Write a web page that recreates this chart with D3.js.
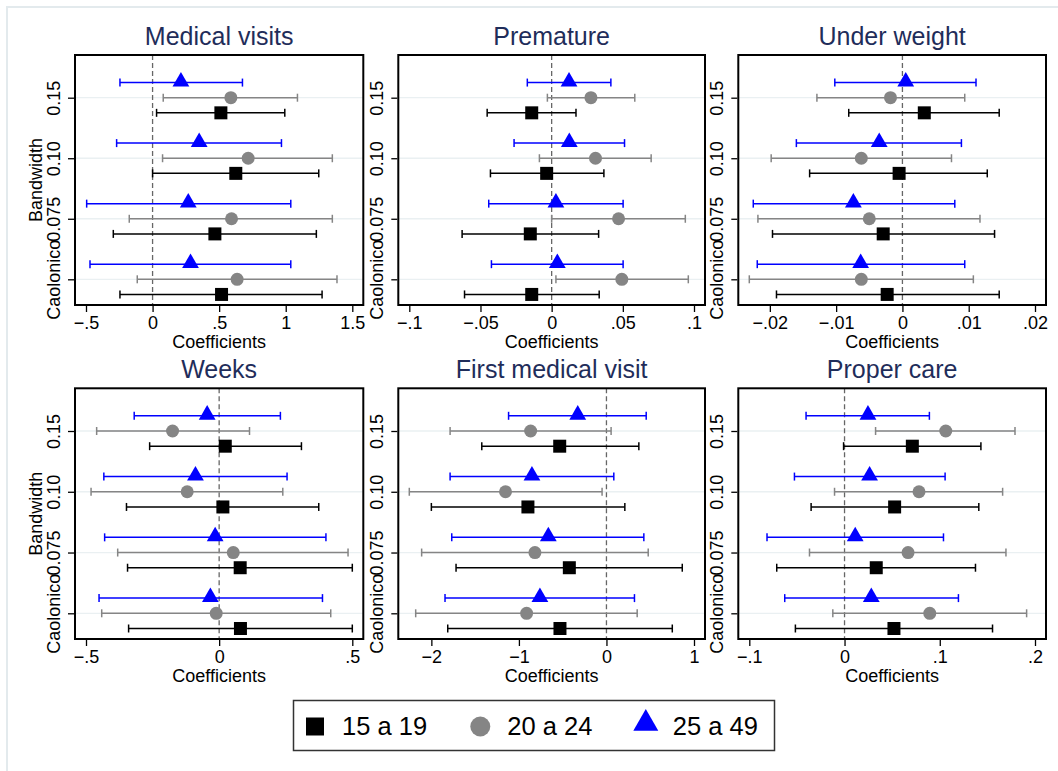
<!DOCTYPE html>
<html>
<head>
<meta charset="utf-8">
<script src="https://cdn.jsdelivr.net/npm/d3@7"></script>
<style>
    body { margin: 0; background: white; }
    text { font-family: "Liberation Sans", Arial, sans-serif; }
</style>
</head>
<body>
<main></main>
<script>
const bandwidths = ["0.15", "0.10", "0.075", "Caolonico"]
const ageGroups = ["15 a 19", "20 a 24", "25 a 49"]
const titles = ["Medical visits", "Premature", "Under weight", "Weeks", "First medical visit", "Proper care"]

// [low, estimate, high] for each bandwidth (0.15, 0.10, 0.075, Caolonico)
const medVisits15 = [[0.03, 0.513, 0.993], [0.0, 0.625, 1.248], [-0.295, 0.468, 1.23], [-0.245, 0.518, 1.273]]
const medVisits20 = [[0.08, 0.588, 1.088], [0.075, 0.718, 1.35], [-0.175, 0.593, 1.35], [-0.115, 0.635, 1.385]]
const medVisits25 = [[-0.245, 0.213, 0.675], [-0.27, 0.35, 0.968], [-0.495, 0.268, 1.038], [-0.47, 0.285, 1.038]]

const premature15 = [[-0.0453, -0.014, 0.0171], [-0.043, -0.0035, 0.0367], [-0.0629, -0.015, 0.033], [-0.0612, -0.014, 0.0334]]
const premature20 = [[-0.003, 0.0276, 0.0584], [-0.0086, 0.0308, 0.0699], [0.0, 0.047, 0.0939], [0.003, 0.0493, 0.096]]
const premature25 = [[-0.0171, 0.0122, 0.0416], [-0.0264, 0.0124, 0.0512], [-0.0442, 0.003, 0.0502], [-0.0423, 0.004, 0.0502]]

const underWeight15 = [[-0.0081, 0.0033, 0.0146], [-0.014, -0.0005, 0.0128], [-0.0196, -0.0029, 0.0139], [-0.019, -0.0023, 0.0146]]
const underWeight20 = [[-0.0129, -0.0018, 0.0094], [-0.0198, -0.0062, 0.0074], [-0.0218, -0.005, 0.0117], [-0.0231, -0.0062, 0.0107]]
const underWeight25 = [[-0.0102, 0.0005, 0.0111], [-0.016, -0.0035, 0.0089], [-0.0225, -0.0074, 0.0079], [-0.0219, -0.0063, 0.0094]]

const weeks15 = [[-0.261, 0.023, 0.309], [-0.348, 0.014, 0.374], [-0.344, 0.079, 0.5], [-0.34, 0.08, 0.5]]
const weeks20 = [[-0.46, -0.175, 0.114], [-0.481, -0.12, 0.239], [-0.381, 0.053, 0.484], [-0.441, -0.011, 0.419]]
const weeks25 = [[-0.319, -0.045, 0.23], [-0.433, -0.089, 0.255], [-0.43, -0.015, 0.401], [-0.451, -0.033, 0.388]]

const firstVisit15 = [[-1.424, -0.534, 0.37], [-2.0, -0.897, 0.21], [-1.718, -0.424, 0.866], [-1.813, -0.531, 0.752]]
const firstVisit20 = [[-1.786, -0.866, 0.053], [-2.252, -1.153, -0.05], [-2.111, -0.817, 0.477], [-2.179, -0.912, 0.351]]
const firstVisit25 = [[-1.118, -0.328, 0.454], [-1.786, -0.851, 0.084], [-1.767, -0.664, 0.427], [-1.844, -0.76, 0.32]]

const properCare15 = [[-0.001, 0.0712, 0.1432], [-0.0351, 0.0526, 0.141], [-0.0712, 0.0333, 0.1375], [-0.0516, 0.0519, 0.1554]]
const properCare20 = [[0.0326, 0.1063, 0.179], [-0.0105, 0.0782, 0.166], [-0.0368, 0.0667, 0.1695], [-0.0123, 0.0895, 0.1912]]
const properCare25 = [[-0.0404, 0.0246, 0.0891], [-0.0526, 0.0263, 0.1056], [-0.0814, 0.0112, 0.1039], [-0.0628, 0.0281, 0.1196]]

const medVisitsTicks = [-0.5, 0, 0.5, 1, 1.5]
const prematureTicks = [-0.1, -0.05, 0, 0.05, 0.1]
const underWeightTicks = [-0.02, -0.01, 0, 0.01, 0.02]
const weeksTicks = [-0.5, 0, 0.5]
const firstVisitTicks = [-2, -1, 0, 1]
const properCareTicks = [-0.1, 0, 0.1, 0.2]

const panelSeries = [
    [medVisits15, medVisits20, medVisits25],
    [premature15, premature20, premature25],
    [underWeight15, underWeight20, underWeight25],
    [weeks15, weeks20, weeks25],
    [firstVisit15, firstVisit20, firstVisit25],
    [properCare15, properCare20, properCare25],
]
const panelTicks = [medVisitsTicks, prematureTicks, underWeightTicks, weeksTicks, firstVisitTicks, properCareTicks]

/* layout */

const svgWidth = 1058
const svgHeight = 771

const cols = [[75, 363.3], [398.3, 705], [738.3, 1046]]
const rows = [[55, 305], [388.3, 639]]

const colors = ["#000000", "#858585", "#0000ff"]
const symbols = [d3.symbolSquare, d3.symbolCircle, d3.symbolTriangle]
const symbolSizes = [169, 133, 122]
const offsets = [0.25, 0, -0.25]   // in category steps, square below, triangle above

const titleColor = "#1f2d5a"
const labelSize = "18px"

let svg = d3.select("main")
    .append("svg")
    .attr("width", svgWidth)
    .attr("height", svgHeight)
    .style("display", "block")
    .style("background-color", "white")

svg.append("rect")
    .attr("x", 7)
    .attr("y", 7)
    .attr("width", 1070)
    .attr("height", 800)
    .attr("fill", "none")
    .attr("stroke", "#e3eaed")
    .attr("stroke-width", 2)

function fmt(v) {
    if (v === 0) return "0"
    let s = String(Math.abs(v)).replace(/^0\./, ".")
    return (v < 0 ? "\u2212" : "") + s
}

panelSeries.forEach((series, p) => {
    let [left, right] = cols[p % 3]
    let [top, bottom] = rows[Math.floor(p / 3)]
    let ticks = panelTicks[p]

    let allVals = series.flat(2)
    let xMin = Math.min(ticks[0], d3.min(allVals))
    let xMax = Math.max(ticks[ticks.length - 1], d3.max(allVals))

    let xScale = d3.scaleLinear()
        .domain([xMin, xMax])
        .range([left + 11, right - 11])

    let yScale = d3.scalePoint()
        .domain(bandwidths)
        .range([top + 42.7, bottom - 25.7])

    let step = yScale.step()

    let g = svg.append("g")

    /* grid */
    g.selectAll(".grid")
        .data(bandwidths)
        .enter()
        .append("line")
        .attr("x1", left)
        .attr("x2", right)
        .attr("y1", (d) => yScale(d))
        .attr("y2", (d) => yScale(d))
        .attr("stroke", "#eaf0f2")
        .attr("stroke-width", 1.3)

    /* zero line */
    g.append("line")
        .attr("x1", xScale(0))
        .attr("x2", xScale(0))
        .attr("y1", top)
        .attr("y2", bottom)
        .attr("stroke", "#666666")
        .attr("stroke-width", 1.3)
        .attr("stroke-dasharray", "5,3")

    /* error bars and markers */
    series.forEach((rowsData, s) => {
        let sg = g.append("g")
        let yPos = (i) => yScale(bandwidths[i]) + offsets[s] * step

        sg.selectAll(".bar")
            .data(rowsData)
            .enter()
            .append("line")
            .attr("x1", (d) => xScale(d[0]))
            .attr("x2", (d) => xScale(d[2]))
            .attr("y1", (d, i) => yPos(i))
            .attr("y2", (d, i) => yPos(i))
            .attr("stroke", colors[s])
            .attr("stroke-width", 1.5)

        ;[0, 2].forEach((k) => {
            sg.selectAll(".cap" + k)
                .data(rowsData)
                .enter()
                .append("line")
                .attr("x1", (d) => xScale(d[k]))
                .attr("x2", (d) => xScale(d[k]))
                .attr("y1", (d, i) => yPos(i) - 4)
                .attr("y2", (d, i) => yPos(i) + 4)
                .attr("stroke", colors[s])
                .attr("stroke-width", 1.5)
        })

        sg.selectAll(".mark")
            .data(rowsData)
            .enter()
            .append("path")
            .attr("d", d3.symbol().type(symbols[s]).size(symbolSizes[s]))
            .attr("transform", (d, i) => `translate(${xScale(d[1])}, ${yPos(i) + (s === 2 ? -1 : 0)})`)
            .attr("fill", colors[s])
    })

    /* frame */
    g.append("rect")
        .attr("x", left)
        .attr("y", top)
        .attr("width", right - left)
        .attr("height", bottom - top)
        .attr("fill", "none")
        .attr("stroke", "black")
        .attr("stroke-width", 2)

    /* x axis */
    let bottomAxis = d3.axisBottom(xScale)
        .tickValues(ticks)
        .tickFormat(fmt)
        .tickSize(6)
        .tickSizeOuter(0)
        .tickPadding(4)

    let xAxis = g.append("g")
        .attr("transform", `translate(0, ${bottom + 1})`)
        .call(bottomAxis)

    xAxis.select(".domain").remove()
    xAxis.selectAll("line")
        .attr("stroke", "black")
        .attr("stroke-width", 1.3)
    xAxis.selectAll("text")
        .attr("fill", "black")
        .style("font-size", labelSize)
        .style("font-family", "'Liberation Sans', Arial, sans-serif")

    g.append("text")
        .attr("x", (left + right) / 2)
        .attr("y", bottom + 43)
        .attr("text-anchor", "middle")
        .style("font-size", labelSize)
        .text("Coefficients")

    /* y axis */
    let leftAxis = d3.axisLeft(yScale)
        .tickSize(6)
        .tickSizeOuter(0)

    let yAxis = g.append("g")
        .attr("transform", `translate(${left - 1}, 0)`)
        .call(leftAxis)

    yAxis.select(".domain").remove()
    yAxis.selectAll("line")
        .attr("stroke", "black")
        .attr("stroke-width", 1.3)
    yAxis.selectAll("text")
        .attr("fill", "black")
        .attr("x", 0)
        .attr("y", -14)
        .attr("dy", null)
        .attr("transform", "rotate(-90)")
        .attr("text-anchor", "middle")
        .style("font-size", labelSize)
        .style("font-family", "'Liberation Sans', Arial, sans-serif")

    if (p % 3 === 0) {
        g.append("text")
            .attr("transform", `translate(41.7, ${(top + bottom) / 2}) rotate(-90)`)
            .attr("text-anchor", "middle")
            .style("font-size", labelSize)
            .text("Bandwidth")
    }

    /* title */
    g.append("text")
        .attr("x", (left + right) / 2)
        .attr("y", top - 10)
        .attr("text-anchor", "middle")
        .attr("fill", titleColor)
        .style("font-size", "25px")
        .text(titles[p])
})

/* legend */

let legend = svg.append("g")

legend.append("rect")
    .attr("x", 293.5)
    .attr("y", 700.5)
    .attr("width", 481)
    .attr("height", 50)
    .attr("fill", "white")
    .attr("stroke", "#333333")
    .attr("stroke-width", 1.5)

let legendX = [315, 480.3, 645.8]
let legendSizes = [324, 314, 270]

let items = legend.selectAll(".item")
    .data(ageGroups)
    .enter()
    .append("g")

items.append("path")
    .attr("d", (d, i) => d3.symbol().type(symbols[i]).size(legendSizes[i])())
    .attr("transform", (d, i) => `translate(${legendX[i]}, ${i === 2 ? 723.5 : 726.5})`)
    .attr("fill", (d, i) => colors[i])

items.append("text")
    .attr("x", (d, i) => legendX[i] + 27)
    .attr("y", 735)
    .style("font-size", "25.5px")
    .attr("fill", "black")
    .text((d) => d)
</script>
</body>
</html>
